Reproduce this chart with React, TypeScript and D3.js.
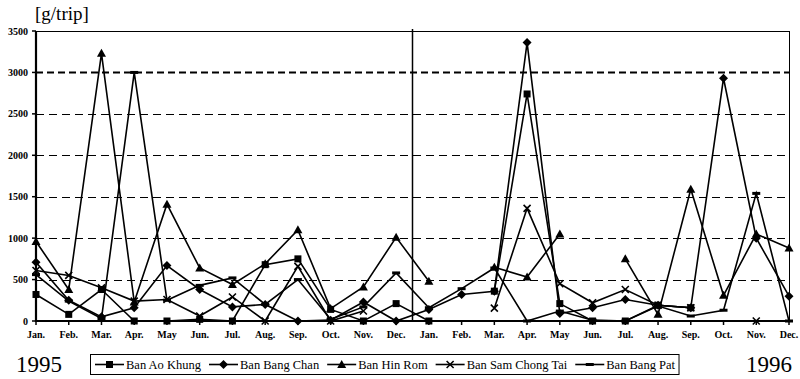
import React, { useEffect, useRef } from "react";
import * as d3 from "d3";

const monthLabels = ["Jan.", "Feb.", "Mar.", "Apr.", "May", "Jun.", "Jul.", "Aug.", "Sep.", "Oct.", "Nov.", "Dec."];
const categories = [...monthLabels, ...monthLabels];
const yearLabels = ["1995", "1996"];
const yTicks = [0, 500, 1000, 1500, 2000, 2500, 3000, 3500];
const unitLabel = "[g/trip]";

const seriesNames = ["Ban Ao Khung", "Ban Bang Chan", "Ban Hin Rom", "Ban Sam Chong Tai", "Ban Bang Pat"];
const markerKinds = ["square", "diamond", "triangle", "x", "dash"];

const aoKhung = [320, 80, 380, 0, 0, 20, 0, 680, 750, 140, 0, 210, 0, null, 360, 2740, 210, 0, 0, 190, 160, null, null, null];
const bangChan = [710, 250, 50, 160, 670, 380, 170, 200, 0, 10, 230, 0, 140, 320, 360, 3360, 90, 160, 260, 190, 160, 2930, 1000, 300];
const hinRom = [960, 380, 3230, 230, 1410, 640, 440, 690, 1100, 150, 410, 1010, 480, null, 650, 530, 1050, null, 750, 80, 1590, 310, 1050, 880];
const samChongTai = [610, 550, 400, 240, 260, 60, 290, 0, 660, 0, 120, null, null, null, 155, 1360, 450, 220, 380, 190, 160, null, 0, null];
const bangPat = [560, 240, 30, 3000, 250, 430, 520, 200, 500, 20, 170, 580, 160, 390, 640, 0, 120, 10, 0, 180, 60, 130, 1540, 0];

const seriesValues = [aoKhung, bangChan, hinRom, samChongTai, bangPat];

const FONT = "'Liberation Serif', 'Times New Roman', 'DejaVu Serif', serif";

function drawMarker(g: any, kind: string, cx: number, cy: number) {
  if (kind === "square") {
    g.append("rect").attr("x", cx - 3.5).attr("y", cy - 3.5).attr("width", 7).attr("height", 7).attr("fill", "#000");
  } else if (kind === "diamond") {
    g.append("path").attr("d", `M${cx},${cy - 4.5}L${cx + 4.5},${cy}L${cx},${cy + 4.5}L${cx - 4.5},${cy}Z`).attr("fill", "#000");
  } else if (kind === "triangle") {
    g.append("path").attr("d", `M${cx},${cy - 4.5}L${cx + 4.5},${cy + 3.5}L${cx - 4.5},${cy + 3.5}Z`).attr("fill", "#000");
  } else if (kind === "x") {
    g.append("path").attr("d", `M${cx - 3.5},${cy - 3.5}L${cx + 3.5},${cy + 3.5}M${cx + 3.5},${cy - 3.5}L${cx - 3.5},${cy + 3.5}`)
      .attr("stroke", "#000").attr("stroke-width", 1.6).attr("fill", "none");
  } else {
    g.append("rect").attr("x", cx - 4).attr("y", cy - 1.5).attr("width", 8).attr("height", 3).attr("fill", "#000");
  }
}

function addText(sel: any, x: number, y: number, size: number, txt: string, anchor = "start", bold = false) {
  return sel.append("text")
    .attr("x", x).attr("y", y)
    .attr("text-anchor", anchor)
    .style("font-family", FONT)
    .style("font-size", `${size}px`)
    .style("font-weight", bold ? "bold" : "normal")
    .attr("fill", "#000")
    .text(txt);
}

export default function App() {
  const ref = useRef<SVGSVGElement>(null);

  useEffect(() => {
    const svg = d3.select(ref.current);
    svg.selectAll("*").remove();

    const left = 36, right = 789, top = 31, bottom = 321;
    const x = d3.scalePoint<number>().domain(d3.range(categories.length)).range([left, right]).padding(0);
    const y = d3.scaleLinear().domain([0, 3500]).range([bottom, top]);

    svg.append("rect").attr("width", 800).attr("height", 379).attr("fill", "#fff");

    // gridlines
    const grid = svg.append("g");
    yTicks.filter((t) => t > 0 && t < 3500).forEach((t) => {
      const bold = t === 3000;
      grid.append("line")
        .attr("x1", left).attr("x2", right)
        .attr("y1", Math.round(y(t)) + 0.5).attr("y2", Math.round(y(t)) + 0.5)
        .attr("stroke", "#000")
        .attr("stroke-width", bold ? 2 : 1)
        .attr("stroke-dasharray", bold ? "7,4" : "8,5");
    });

    // frame
    svg.append("line").attr("x1", left).attr("x2", right).attr("y1", top + 0.5).attr("y2", top + 0.5).attr("stroke", "#000").attr("stroke-width", 1);
    svg.append("line").attr("x1", right + 0.5).attr("x2", right + 0.5).attr("y1", top).attr("y2", bottom).attr("stroke", "#000").attr("stroke-width", 1);

    // year divider
    const midX = (x(11)! + x(12)!) / 2;
    svg.append("line").attr("x1", midX).attr("x2", midX).attr("y1", top - 2).attr("y2", bottom).attr("stroke", "#000").attr("stroke-width", 1.5);

    // axes
    svg.append("line").attr("x1", left).attr("x2", left).attr("y1", top).attr("y2", bottom + 1).attr("stroke", "#000").attr("stroke-width", 2.2);
    svg.append("line").attr("x1", left - 1).attr("x2", right + 1).attr("y1", bottom).attr("y2", bottom).attr("stroke", "#000").attr("stroke-width", 2.2);

    yTicks.forEach((t) => {
      svg.append("line").attr("x1", left - 4).attr("x2", left).attr("y1", y(t)).attr("y2", y(t)).attr("stroke", "#000").attr("stroke-width", 1.5);
      addText(svg, 28, y(t) + 3.5, 10, String(t), "end", true);
    });

    categories.forEach((c, i) => {
      svg.append("line").attr("x1", x(i)!).attr("x2", x(i)!).attr("y1", bottom).attr("y2", bottom + 4).attr("stroke", "#000").attr("stroke-width", 1.5);
      addText(svg, x(i)!, 338, 10, c, "middle", true);
    });

    // series
    const line = d3.line<number | null>()
      .defined((d) => d != null)
      .x((_, i) => x(i)!)
      .y((d) => y(d as number));

    seriesValues.forEach((vals, si) => {
      const g = svg.append("g");
      g.append("path").attr("d", line(vals as any)!).attr("fill", "none").attr("stroke", "#000").attr("stroke-width", 1.6).attr("stroke-linejoin", "miter");
      vals.forEach((v, i) => {
        if (v == null) return;
        drawMarker(g, markerKinds[si], x(i)!, y(v));
      });
    });

    // title
    addText(svg, 35, 20, 19, unitLabel);

    // years
    addText(svg, 16, 372, 23, yearLabels[0]);
    addText(svg, 792, 372, 23, yearLabels[1], "end");

    // legend
    const lg = svg.append("g");
    const box = lg.append("rect").attr("x", 90.5).attr("y", 354.5).attr("height", 20).attr("fill", "#fff").attr("stroke", "#000").attr("stroke-width", 1);
    let cx = 95;
    const ly = 364.5;
    seriesNames.forEach((name, si) => {
      lg.append("line").attr("x1", cx).attr("x2", cx + 29).attr("y1", ly).attr("y2", ly).attr("stroke", "#000").attr("stroke-width", 1.6);
      drawMarker(lg, markerKinds[si], cx + 14.5, ly);
      const t = addText(lg, cx + 31, ly + 4, 12.5, name);
      const w = (t.node() as SVGTextElement).getComputedTextLength();
      cx = cx + 31 + w + 8;
    });
    box.attr("width", cx - 4 - 90.5);
  }, []);

  return (
    <div style={{ position: "fixed", left: 0, top: 0 }}>
      <svg ref={ref} width={800} height={379} style={{ display: "block" }} />
    </div>
  );
}
